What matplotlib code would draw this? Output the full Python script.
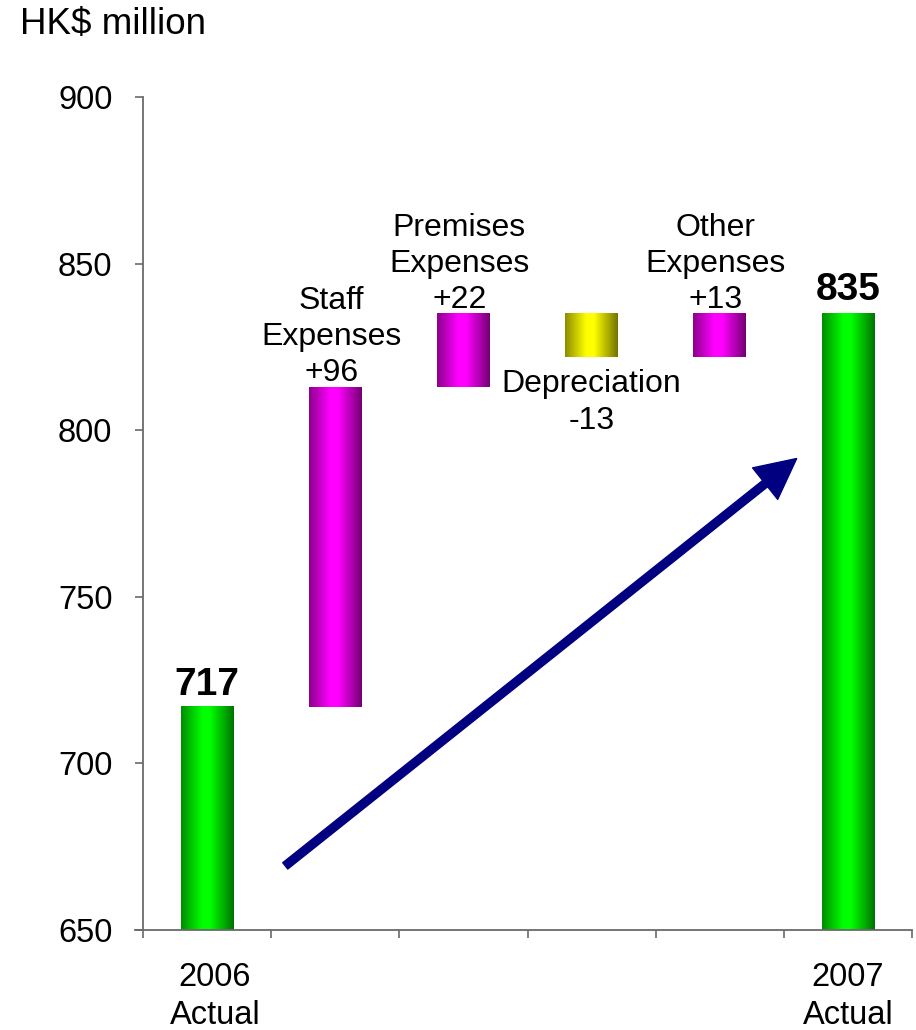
import numpy as np
import matplotlib
matplotlib.use("Agg")
import matplotlib.pyplot as plt

plt.rcParams['font.family'] = ['Liberation Sans', 'DejaVu Sans']

# --- data -------------------------------------------------------------
categories = ["2006\nActual", "Staff\nExpenses", "Premises\nExpenses",
              "Depreciation", "Other\nExpenses", "2007\nActual"]
start_total = 717
end_total = 835
changes = [96, 22, -13, 13]
change_labels = ["+96", "+22", "-13", "+13"]
y_ticks = [650, 700, 750, 800, 850, 900]
unit_label = "HK$ million"

# --- colours ----------------------------------------------------------
GREEN = (0.0, 1.0, 0.0)
MAGENTA = (1.0, 0.0, 1.0)
YELLOW = (1.0, 1.0, 0.0)
NAVY = "#000080"
AXIS_GREY = "#6a6a6a"

BAR_W = 0.41


def gradient_bar(ax, x, bottom, top, base_rgb):
    """Bar with a horizontal cylinder-like shading."""
    bar = ax.bar(x, top - bottom, bottom=bottom, width=BAR_W,
                 color="none", linewidth=0)[0]
    t = np.linspace(0, 1, 256)
    shade = np.interp(t, [0.0, 0.40, 0.55, 1.0], [0.55, 1.0, 1.0, 0.45])
    img = np.array(base_rgb)[None, None, :] * shade[None, :, None]
    x0 = bar.get_x()
    ax.imshow(img, extent=(x0, x0 + bar.get_width(), bottom, top),
              aspect="auto", interpolation="bilinear", zorder=2)
    return bar


fig = plt.figure(figsize=(9.16, 10.30), dpi=100)
ax = fig.add_axes([143 / 916, 100 / 1030, (912 - 143) / 916, (930 - 97) / 1030])

x_pos = np.arange(len(categories))

# opening total
gradient_bar(ax, x_pos[0], 0, start_total, GREEN)
ax.annotate(str(start_total), (x_pos[0], start_total), xytext=(0, 3),
            textcoords="offset points", ha="center", va="bottom",
            fontsize=28, fontweight="bold")

# movements
level = start_total
for i, (chg, lab) in enumerate(zip(changes, change_labels), start=1):
    lo, hi = sorted((level, level + chg))
    gradient_bar(ax, x_pos[i], lo, hi, MAGENTA if chg > 0 else YELLOW)
    name = categories[i]
    if chg > 0:
        ax.annotate(f"{name}\n{lab}", (x_pos[i], hi), xytext=(-3, -1),
                    textcoords="offset points", ha="center", va="bottom",
                    fontsize=23, linespacing=1.27)
    else:
        ax.annotate(f"{name}\n{lab}", (x_pos[i], lo), xytext=(0, -9),
                    textcoords="offset points", ha="center", va="top",
                    fontsize=23, linespacing=1.27)
    level += chg

# closing total
gradient_bar(ax, x_pos[-1], 0, end_total, GREEN)
ax.annotate(str(end_total), (x_pos[-1], end_total), xytext=(0, 4),
            textcoords="offset points", ha="center", va="bottom",
            fontsize=28, fontweight="bold")

# trend arrow
ax.annotate("", xy=(0.850, 0.566), xytext=(0.185, 0.077),
            xycoords="axes fraction", textcoords="axes fraction",
            arrowprops=dict(width=5.8, headwidth=29, headlength=29,
                            color=NAVY, shrink=0), zorder=5)

# axes
ax.set_xlim(-0.5, len(categories) - 0.5)
ax.set_ylim(y_ticks[0], y_ticks[-1])
ax.set_yticks(y_ticks)
ax.set_xticks(np.arange(-0.5, len(categories), 1.0))
ax.set_xticklabels([])
ax.set_xticks([x_pos[0] + 0.06, x_pos[-1]], minor=True)
ax.set_xticklabels([categories[0], categories[-1]], minor=True,
                   fontsize=23.5, linespacing=1.3)
ax.tick_params(axis="x", which="minor", length=0, pad=23)
ax.tick_params(axis="x", which="major", length=6, width=1.2,
               color=AXIS_GREY, direction="out")
ax.tick_params(axis="y", length=6, width=1.2, color=AXIS_GREY,
               labelsize=23.5, pad=16)

for side in ("top", "right"):
    ax.spines[side].set_visible(False)
for side in ("left", "bottom"):
    ax.spines[side].set_color(AXIS_GREY)
    ax.spines[side].set_linewidth(1.3)
ax.spines["bottom"].set_bounds(-0.5 - 8 / 128, len(categories) - 0.5)

fig.text(20 / 916, 1 - 25 / 1030, unit_label, fontsize=26.5,
         ha="left", va="center")

fig.savefig("out.png", dpi=100)
